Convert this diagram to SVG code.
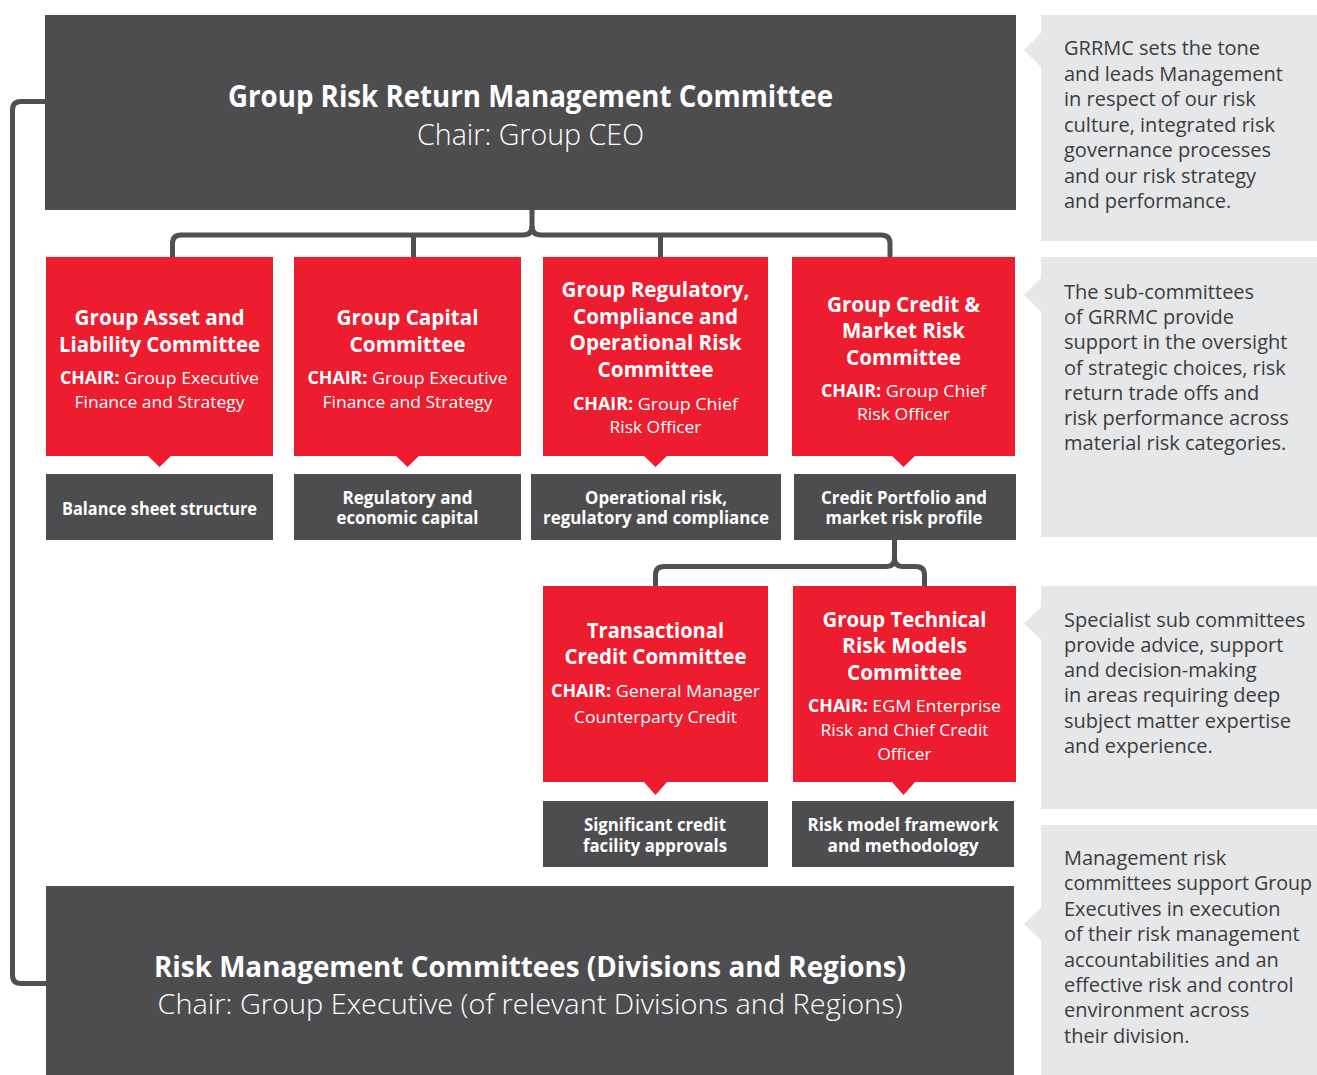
<svg xmlns="http://www.w3.org/2000/svg" width="1317" height="1075" viewBox="0 0 1317 1075">
<style>
.dark{fill:#4d4d4f}
.red{fill:#ed1c2e}
.panel{fill:#e6e7e8}
.conn{fill:none;stroke:#505052;stroke-width:5;stroke-linejoin:round}
text{font-family:"Open Sans","Noto Sans","Liberation Sans",sans-serif}
.t1{fill:#fff;font-weight:700;text-anchor:middle}
.t2{fill:#fff;font-weight:300;text-anchor:middle}
.hd{fill:#fff;font-weight:700;font-size:21px;text-anchor:middle}
.ch{fill:#fff;font-weight:400;font-size:17px;text-anchor:middle}
.b{font-weight:700}
.gr{fill:#fff;font-weight:700;font-size:17px;text-anchor:middle}
.pt{fill:#3c3c3e;font-size:20px;font-weight:400}
</style>
<rect width="1317" height="1075" fill="#fff"/>

<g id="panels">
  <g id="panel1"><rect class="panel" x="1041" y="15" width="276" height="226"/><polygon class="panel" points="1041,33 1024,50 1041,67"/>
    <text class="pt"><tspan x="1064" y="55">GRRMC sets the tone</tspan><tspan x="1064" y="80.5">and leads Management</tspan><tspan x="1064" y="106">in respect of our risk</tspan><tspan x="1064" y="131.5">culture, integrated risk</tspan><tspan x="1064" y="157">governance processes</tspan><tspan x="1064" y="182.5">and our risk strategy</tspan><tspan x="1064" y="208">and performance.</tspan></text></g>
  <g id="panel2"><rect class="panel" x="1041" y="257" width="276" height="280"/><polygon class="panel" points="1041,278 1024,295 1041,312"/>
    <text class="pt"><tspan x="1064" y="299">The sub-committees</tspan><tspan x="1064" y="324.2">of GRRMC provide</tspan><tspan x="1064" y="349.4">support in the oversight</tspan><tspan x="1064" y="374.6">of strategic choices, risk</tspan><tspan x="1064" y="399.8">return trade offs and</tspan><tspan x="1064" y="425">risk performance across</tspan><tspan x="1064" y="450.2">material risk categories.</tspan></text></g>
  <g id="panel3"><rect class="panel" x="1041" y="586" width="276" height="223"/><polygon class="panel" points="1041,607 1024,623.5 1041,640"/>
    <text class="pt"><tspan x="1064" y="626.5">Specialist sub committees</tspan><tspan x="1064" y="651.8">provide advice, support</tspan><tspan x="1064" y="677.1">and decision-making</tspan><tspan x="1064" y="702.4">in areas requiring deep</tspan><tspan x="1064" y="727.7">subject matter expertise</tspan><tspan x="1064" y="753">and experience.</tspan></text></g>
  <g id="panel4"><rect class="panel" x="1041" y="825" width="276" height="250"/><polygon class="panel" points="1041,908 1024,924 1041,940"/>
    <text class="pt"><tspan x="1064" y="865">Management risk</tspan><tspan x="1064" y="890.4" textLength="248" lengthAdjust="spacingAndGlyphs">committees support Group</tspan><tspan x="1064" y="915.8">Executives in execution</tspan><tspan x="1064" y="941.2">of their risk management</tspan><tspan x="1064" y="966.6">accountabilities and an</tspan><tspan x="1064" y="992">effective risk and control</tspan><tspan x="1064" y="1017.4">environment across</tspan><tspan x="1064" y="1043">their division.</tspan></text></g>
</g>

<g id="connectors">
  <path class="conn" d="M46,101.5 H21 Q12.5,101.5 12.5,110 V975 Q12.5,983.5 21,983.5 H46"/>
  <path class="conn" d="M532,210 V226 Q532,235 523,235 H181 Q172.5,235 172.5,243.5 V257"/>
  <path class="conn" d="M532,226 Q532,235 541,235 H881 Q890,235 890,243.5 V257"/>
  <path class="conn" d="M413.5,235 V257"/>
  <path class="conn" d="M660.5,235 V257"/>
  <path class="conn" d="M894.5,540 V558 Q894.5,566.5 886,566.5 H664 Q655.5,566.5 655.5,575 V586"/>
  <path class="conn" d="M894.5,558 Q894.5,566.5 903,566.5 H916 Q924.5,566.5 924.5,575 V586"/>
</g>

<g id="grrmc">
  <rect class="dark" x="45" y="15" width="971" height="195"/>
  <text x="530.5" text-anchor="middle"><tspan class="t1" x="530.5" y="106.5" font-size="30" textLength="605" lengthAdjust="spacingAndGlyphs">Group Risk Return Management Committee</tspan><tspan class="t2" x="530.5" y="144.5" font-size="30" textLength="227" lengthAdjust="spacingAndGlyphs">Chair: Group CEO</tspan></text>
</g>

<g id="galc">
  <rect class="red" x="46" y="257" width="227" height="199"/>
  <polygon class="red" points="147,455 172,455 159.5,467"/>
  <text class="hd"><tspan x="159.5" y="325" textLength="170" lengthAdjust="spacingAndGlyphs">Group Asset and</tspan><tspan x="159.5" y="352" textLength="201" lengthAdjust="spacingAndGlyphs">Liability Committee</tspan></text>
  <text class="ch"><tspan x="159.5" y="384" textLength="199" lengthAdjust="spacingAndGlyphs"><tspan class="b">CHAIR:</tspan> Group Executive</tspan><tspan x="159.5" y="408" textLength="170" lengthAdjust="spacingAndGlyphs">Finance and Strategy</tspan></text>
</g>
<g id="gcc">
  <rect class="red" x="294" y="257" width="227" height="199"/>
  <polygon class="red" points="395,455 420,455 407.5,467"/>
  <text class="hd"><tspan x="407.5" y="325" textLength="142" lengthAdjust="spacingAndGlyphs">Group Capital</tspan><tspan x="407.5" y="352" textLength="116" lengthAdjust="spacingAndGlyphs">Committee</tspan></text>
  <text class="ch"><tspan x="407.5" y="384" textLength="200" lengthAdjust="spacingAndGlyphs"><tspan class="b">CHAIR:</tspan> Group Executive</tspan><tspan x="407.5" y="408" textLength="170" lengthAdjust="spacingAndGlyphs">Finance and Strategy</tspan></text>
</g>
<g id="grcorc">
  <rect class="red" x="543" y="257" width="225" height="199"/>
  <polygon class="red" points="643,455 668,455 655.5,467"/>
  <text class="hd"><tspan x="655.5" y="297" textLength="188" lengthAdjust="spacingAndGlyphs">Group Regulatory,</tspan><tspan x="655.5" y="323.5" textLength="165" lengthAdjust="spacingAndGlyphs">Compliance and</tspan><tspan x="655.5" y="350" textLength="172" lengthAdjust="spacingAndGlyphs">Operational Risk</tspan><tspan x="655.5" y="376.5" textLength="116" lengthAdjust="spacingAndGlyphs">Committee</tspan></text>
  <text class="ch"><tspan x="655.5" y="410" textLength="165" lengthAdjust="spacingAndGlyphs"><tspan class="b">CHAIR:</tspan> Group Chief</tspan><tspan x="655.5" y="433" textLength="92" lengthAdjust="spacingAndGlyphs">Risk Officer</tspan></text>
</g>
<g id="gcmrc">
  <rect class="red" x="792" y="257" width="223" height="199"/>
  <polygon class="red" points="891,455 916,455 903.5,467"/>
  <text class="hd"><tspan x="903.5" y="311.5" textLength="153" lengthAdjust="spacingAndGlyphs">Group Credit &amp;</tspan><tspan x="903.5" y="338" textLength="123" lengthAdjust="spacingAndGlyphs">Market Risk</tspan><tspan x="903.5" y="364.5" textLength="115" lengthAdjust="spacingAndGlyphs">Committee</tspan></text>
  <text class="ch"><tspan x="903.5" y="397" textLength="165" lengthAdjust="spacingAndGlyphs"><tspan class="b">CHAIR:</tspan> Group Chief</tspan><tspan x="903.5" y="420" textLength="93" lengthAdjust="spacingAndGlyphs">Risk Officer</tspan></text>
</g>

<g id="bss">
  <rect class="dark" x="46" y="474" width="227" height="66"/>
  <text class="gr" x="159.5" y="514.5" textLength="195" lengthAdjust="spacingAndGlyphs">Balance sheet structure</text>
</g>
<g id="rec">
  <rect class="dark" x="294" y="474" width="227" height="66"/>
  <text class="gr"><tspan x="407.5" y="503.5" textLength="130" lengthAdjust="spacingAndGlyphs">Regulatory and</tspan><tspan x="407.5" y="524" textLength="142" lengthAdjust="spacingAndGlyphs">economic capital</tspan></text>
</g>
<g id="orc">
  <rect class="dark" x="531" y="474" width="250" height="66"/>
  <text class="gr"><tspan x="656" y="503.5" textLength="142" lengthAdjust="spacingAndGlyphs">Operational risk,</tspan><tspan x="656" y="524" textLength="226" lengthAdjust="spacingAndGlyphs">regulatory and compliance</tspan></text>
</g>
<g id="cpm">
  <rect class="dark" x="794" y="474" width="222" height="66"/>
  <text class="gr"><tspan x="904" y="503.5" textLength="166" lengthAdjust="spacingAndGlyphs">Credit Portfolio and</tspan><tspan x="904" y="524" textLength="157" lengthAdjust="spacingAndGlyphs">market risk profile</tspan></text>
</g>

<g id="tcc">
  <rect class="red" x="543" y="586" width="225" height="196"/>
  <polygon class="red" points="643,781 668,781 655.5,795"/>
  <text class="hd"><tspan x="655.5" y="637.5" textLength="137" lengthAdjust="spacingAndGlyphs">Transactional</tspan><tspan x="655.5" y="664" textLength="182" lengthAdjust="spacingAndGlyphs">Credit Committee</tspan></text>
  <text class="ch"><tspan x="655.5" y="696.5" textLength="209" lengthAdjust="spacingAndGlyphs"><tspan class="b">CHAIR:</tspan> General Manager</tspan><tspan x="655.5" y="722.5" textLength="163" lengthAdjust="spacingAndGlyphs">Counterparty Credit</tspan></text>
</g>
<g id="gtrmc">
  <rect class="red" x="793" y="586" width="223" height="196"/>
  <polygon class="red" points="891,781 916,781 903.5,795"/>
  <text class="hd"><tspan x="904.5" y="626.5" textLength="164" lengthAdjust="spacingAndGlyphs">Group Technical</tspan><tspan x="904.5" y="653" textLength="125" lengthAdjust="spacingAndGlyphs">Risk Models</tspan><tspan x="904.5" y="680" textLength="115" lengthAdjust="spacingAndGlyphs">Committee</tspan></text>
  <text class="ch"><tspan x="904.5" y="711.5" textLength="193" lengthAdjust="spacingAndGlyphs"><tspan class="b">CHAIR:</tspan> EGM Enterprise</tspan><tspan x="904.5" y="735.5" textLength="168" lengthAdjust="spacingAndGlyphs">Risk and Chief Credit</tspan><tspan x="904.5" y="759.5" textLength="54" lengthAdjust="spacingAndGlyphs">Officer</tspan></text>
</g>

<g id="scfa">
  <rect class="dark" x="543" y="801" width="225" height="66"/>
  <text class="gr"><tspan x="655" y="830.5" textLength="142" lengthAdjust="spacingAndGlyphs">Significant credit</tspan><tspan x="655" y="851.5" textLength="144" lengthAdjust="spacingAndGlyphs">facility approvals</tspan></text>
</g>
<g id="rmfm">
  <rect class="dark" x="792" y="801" width="222" height="66"/>
  <text class="gr"><tspan x="903" y="830.5" textLength="191" lengthAdjust="spacingAndGlyphs">Risk model framework</tspan><tspan x="903" y="851.5" textLength="151" lengthAdjust="spacingAndGlyphs">and methodology</tspan></text>
</g>

<g id="rmc">
  <rect class="dark" x="46" y="886" width="968" height="189"/>
  <text x="530" text-anchor="middle"><tspan class="t1" x="530" y="977" font-size="28" textLength="752" lengthAdjust="spacingAndGlyphs">Risk Management Committees (Divisions and Regions)</tspan><tspan class="t2" x="530" y="1014" font-size="28" textLength="745" lengthAdjust="spacingAndGlyphs">Chair: Group Executive (of relevant Divisions and Regions)</tspan></text>
</g>
</svg>
